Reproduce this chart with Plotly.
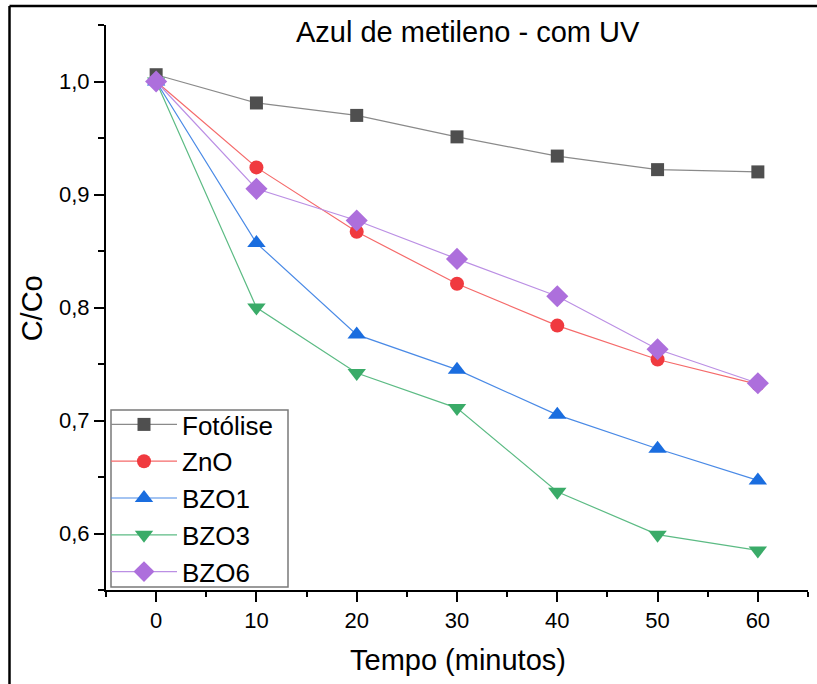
import plotly.graph_objects as go

# Irradiation time (minutes)
tempo = [0, 10, 20, 30, 40, 50, 60]

# Normalised concentration C/Co for each sample
fotolise = [1.006, 0.981, 0.970, 0.951, 0.934, 0.922, 0.920]
zno = [1.000, 0.924, 0.867, 0.821, 0.784, 0.754, 0.732]
bzo1 = [1.000, 0.857, 0.776, 0.745, 0.705, 0.675, 0.647]
bzo3 = [1.000, 0.800, 0.742, 0.711, 0.637, 0.599, 0.585]
bzo6 = [1.000, 0.905, 0.877, 0.843, 0.810, 0.763, 0.733]

series = [
    ("Fotólise", fotolise, "square", "#4f4f4f", "#8a8a8a", 13),
    ("ZnO", zno, "circle", "#f03a3f", "#f56a6a", 14),
    ("BZO1", bzo1, "triangle-up", "#1a6ddf", "#4a8ae6", 16),
    ("BZO3", bzo3, "triangle-down", "#3aab68", "#5cbb84", 16),
    ("BZO6", bzo6, "diamond", "#ad6fdc", "#bb8fe4", 17),
]

FONT = "Liberation Sans, Arial, sans-serif"

fig = go.Figure()
for name, vals, sym, mcol, lcol, size in series:
    fig.add_trace(go.Scatter(
        x=tempo, y=vals, name=name, mode="lines+markers",
        line=dict(color=lcol, width=1.2),
        marker=dict(symbol=sym, color=mcol, size=size, line=dict(width=0)),
    ))

axis_common = dict(
    showline=True, linecolor="black", linewidth=2, mirror=False,
    showgrid=False, zeroline=False,
    ticks="outside", ticklen=10, tickwidth=2, tickcolor="black",
    tickfont=dict(family=FONT, size=22, color="black"),
)

fig.update_xaxes(
    range=[-5, 65], tickvals=[0, 10, 20, 30, 40, 50, 60],
    minor=dict(ticks="outside", tickvals=[-5, 5, 15, 25, 35, 45, 55, 65],
               ticklen=5, tickwidth=2, tickcolor="black"),
    **axis_common,
)
fig.update_yaxes(
    range=[0.55, 1.05], tickvals=[0.6, 0.7, 0.8, 0.9, 1.0], tickformat=".1f",
    minor=dict(ticks="outside", tickvals=[0.55, 0.65, 0.75, 0.85, 0.95, 1.05],
               ticklen=6, tickwidth=2, tickcolor="black"),
    **axis_common,
)

# plot area in pixels: x 106..808, y 25..590
def px_x(p):
    return (p - 106) / 702

def px_y(p):
    return (590 - p) / 565

fig.update_layout(
    width=817, height=684,
    margin=dict(l=106, r=9, t=25, b=94),
    paper_bgcolor="white", plot_bgcolor="white",
    separators=", ",
    showlegend=True,
    legend=dict(
        x=px_x(106), y=px_y(401), xanchor="left", yanchor="top",
        bgcolor="rgba(0,0,0,0)", borderwidth=0,
        font=dict(family=FONT, size=26, color="black"),
        itemwidth=66, tracegroupgap=0,
    ),
    annotations=[
        dict(text="Azul de metileno - com UV", x=0.516, y=0.988,
             xref="paper", yref="paper", xanchor="center", yanchor="middle",
             showarrow=False, font=dict(family=FONT, size=29, color="black")),
        dict(text="Tempo (minutos)", x=0.501, y=-0.124,
             xref="paper", yref="paper", xanchor="center", yanchor="middle",
             showarrow=False, font=dict(family=FONT, size=29, color="black")),
        dict(text="C/Co", x=-0.105, y=0.499, textangle=-90,
             xref="paper", yref="paper", xanchor="center", yanchor="middle",
             showarrow=False, font=dict(family=FONT, size=29, color="black")),
    ],
    shapes=[
        # legend frame
        dict(type="rect", xref="paper", yref="paper",
             x0=px_x(111), y0=px_y(587), x1=px_x(288), y1=px_y(410),
             line=dict(color="#7a7a7a", width=1.5), fillcolor="white",
             layer="below"),
        # outer figure frame (open on the right and bottom)
        dict(type="line", xref="paper", yref="paper",
             x0=px_x(9.5), y0=px_y(6), x1=px_x(817), y1=px_y(6),
             line=dict(color="black", width=2.5)),
        dict(type="line", xref="paper", yref="paper",
             x0=px_x(9.5), y0=px_y(6), x1=px_x(9.5), y1=px_y(684),
             line=dict(color="black", width=2.5)),
    ],
)

fig.write_html("out.html")
